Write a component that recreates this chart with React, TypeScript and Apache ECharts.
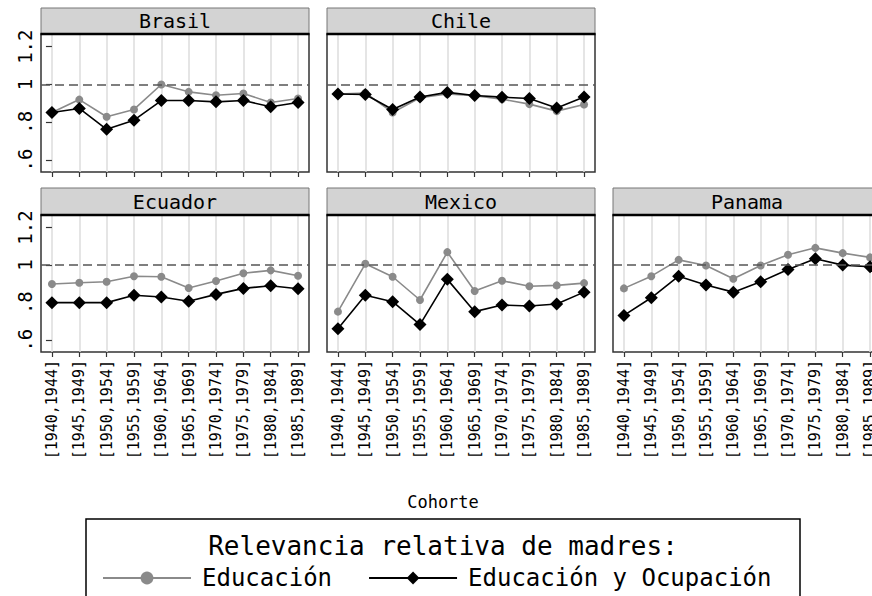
import React, { useEffect, useRef } from 'react';
import * as echarts from 'echarts';

const cohorts = ['[1940,1944]', '[1945,1949]', '[1950,1954]', '[1955,1959]', '[1960,1964]', '[1965,1969]', '[1970,1974]', '[1975,1979]', '[1980,1984]', '[1985,1989]'];
const countries = ['Brasil', 'Chile', 'Ecuador', 'Mexico', 'Panama'];
const seriesNames = ['Educación', 'Educación y Ocupación'];

const brasilEdu = [0.852, 0.92, 0.829, 0.868, 1.0, 0.961, 0.943, 0.952, 0.905, 0.926];
const brasilEduOcu = [0.852, 0.873, 0.763, 0.811, 0.915, 0.915, 0.908, 0.915, 0.882, 0.905];
const chileEdu = [0.95, 0.955, 0.852, 0.93, 0.95, 0.94, 0.922, 0.896, 0.859, 0.894];
const chileEduOcu = [0.95, 0.947, 0.868, 0.934, 0.958, 0.942, 0.933, 0.926, 0.876, 0.934];
const ecuadorEdu = [0.899, 0.906, 0.911, 0.941, 0.938, 0.878, 0.915, 0.957, 0.972, 0.943];
const ecuadorEduOcu = [0.8, 0.8, 0.8, 0.839, 0.83, 0.807, 0.844, 0.876, 0.89, 0.874];
const mexicoEdu = [0.752, 1.007, 0.938, 0.814, 1.069, 0.862, 0.917, 0.887, 0.892, 0.904];
const mexicoEduOcu = [0.661, 0.839, 0.805, 0.683, 0.924, 0.752, 0.787, 0.782, 0.793, 0.856];
const panamaEdu = [0.876, 0.941, 1.028, 0.998, 0.927, 0.998, 1.055, 1.092, 1.064, 1.041];
const panamaEduOcu = [0.732, 0.826, 0.941, 0.894, 0.856, 0.911, 0.977, 1.034, 1.0, 0.991];

const yTicks = [0.6, 0.8, 1, 1.2];
const refValue = 1;
const legendTitle = 'Relevancia relativa de madres:';
const xTitle = 'Cohorte';

const FONT = '"DejaVu Sans Mono", monospace';

export default function App() {
  const ref = useRef<HTMLDivElement>(null);
  useEffect(() => {
    if (!ref.current) return;
    const chart = echarts.init(ref.current, undefined, { renderer: 'svg' });
    const eduData = [brasilEdu, chileEdu, ecuadorEdu, mexicoEdu, panamaEdu];
    const occData = [brasilEduOcu, chileEduOcu, ecuadorEduOcu, mexicoEduOcu, panamaEduOcu];
    const W = 268;
    const panels = [
      { left: 41, top: 34, height: 138, yLab: true, xLab: false },
      { left: 327, top: 34, height: 138, yLab: false, xLab: false },
      { left: 41, top: 215, height: 137, yLab: true, xLab: true },
      { left: 327, top: 215, height: 137, yLab: false, xLab: true },
      { left: 613, top: 215, height: 137, yLab: false, xLab: true },
    ];
    const tickIdx = cohorts.map((_, i) => i);
    const grids = panels.map((p) => ({
      left: p.left, width: W, top: p.top, height: p.height,
      outerBoundsMode: 'none', containLabel: false,
      show: true, borderColor: '#333', borderWidth: 1.5, backgroundColor: '#fff',
    }));
    const xAxes = panels.map((p, i) => ({
      type: 'value', gridIndex: i, min: -0.4, max: 9.4,
      axisLine: { show: false },
      axisTick: { show: true, customValues: tickIdx, length: 5, lineStyle: { color: '#333', width: 1.2 } },
      axisLabel: {
        show: p.xLab, customValues: tickIdx, rotate: 90, margin: 8,
        fontFamily: FONT, fontSize: 15, color: '#000',
        formatter: (v: number) => cohorts[Math.round(v)] ?? '',
      },
      splitLine: { show: true, lineStyle: { color: '#dcdcdc', width: 1.5 } },
    }));
    const yAxes = panels.map((p, i) => ({
      type: 'value', gridIndex: i, min: 0.537, max: 1.267,
      axisLine: { show: false },
      axisTick: { show: p.yLab, customValues: yTicks, length: 6, lineStyle: { color: '#333', width: 1.2 } },
      axisLabel: {
        show: p.yLab, customValues: yTicks, rotate: 90, margin: 7,
        fontFamily: FONT, fontSize: 19, color: '#000',
        formatter: (v: number) => String(Math.round(v * 10) / 10).replace(/^0/, ''),
      },
      splitLine: { show: false },
    }));
    const series: any[] = [];
    panels.forEach((p, i) => {
      series.push({
        type: 'line', name: seriesNames[0], xAxisIndex: i, yAxisIndex: i,
        data: eduData[i].map((v, k) => [k, v]),
        symbol: 'circle', symbolSize: 8,
        lineStyle: { color: '#8a8a8a', width: 1.6 },
        itemStyle: { color: '#8a8a8a' },
        z: 3,
        markLine: {
          silent: true, symbol: 'none', label: { show: false },
          lineStyle: { color: '#555', type: [9, 5], width: 1.5 },
          data: [{ yAxis: refValue }],
        },
      });
      series.push({
        type: 'line', name: seriesNames[1], xAxisIndex: i, yAxisIndex: i,
        data: occData[i].map((v, k) => [k, v]),
        symbol: 'diamond', symbolSize: 13,
        lineStyle: { color: '#000', width: 1.6 },
        itemStyle: { color: '#000' },
        z: 4,
      });
    });
    const graphics: any[] = [];
    panels.forEach((p, i) => {
      const hTop = p.top - (i < 2 ? 26 : 27);
      graphics.push({
        type: 'rect', shape: { x: p.left, y: hTop, width: W, height: p.top - hTop },
        style: { fill: '#d3d3d3', stroke: '#777', lineWidth: 1 }, z: 1,
      });
      graphics.push({
        type: 'line', shape: { x1: p.left - 0.5, y1: p.top, x2: p.left + W + 0.5, y2: p.top },
        style: { stroke: '#000', lineWidth: 2.5 }, z: 2,
      });
      graphics.push({
        type: 'text', x: p.left + W / 2, y: hTop + (p.top - hTop) / 2,
        style: { text: countries[i], fontFamily: FONT, fontSize: 20, fill: '#000', align: 'center', verticalAlign: 'middle' },
        z: 3,
      });
    });
    graphics.push({
      type: 'text', x: 443, y: 502,
      style: { text: xTitle, fontFamily: FONT, fontSize: 17, fill: '#000', align: 'center', verticalAlign: 'middle' },
    });
    graphics.push({
      type: 'rect', shape: { x: 86, y: 519, width: 714, height: 100 },
      style: { fill: 'none', stroke: '#000', lineWidth: 1.5 },
    });
    graphics.push({
      type: 'text', x: 443, y: 546,
      style: { text: legendTitle, fontFamily: FONT, fontSize: 26, fill: '#000', align: 'center', verticalAlign: 'middle' },
    });
    chart.setOption({
      animation: false,
      backgroundColor: '#fff',
      grid: grids,
      xAxis: xAxes,
      yAxis: yAxes,
      series,
      legend: {
        data: seriesNames,
        left: 97, top: 561,
        itemWidth: 88, itemHeight: 16, itemGap: 36,
        textStyle: { fontFamily: FONT, fontSize: 24, color: '#000', padding: [0, 0, 0, 6] },
      },
      graphic: graphics,
    });
    return () => chart.dispose();
  }, []);
  return <div ref={ref} style={{ position: 'fixed', left: 0, top: 0, width: 872, height: 596 }} />;
}
